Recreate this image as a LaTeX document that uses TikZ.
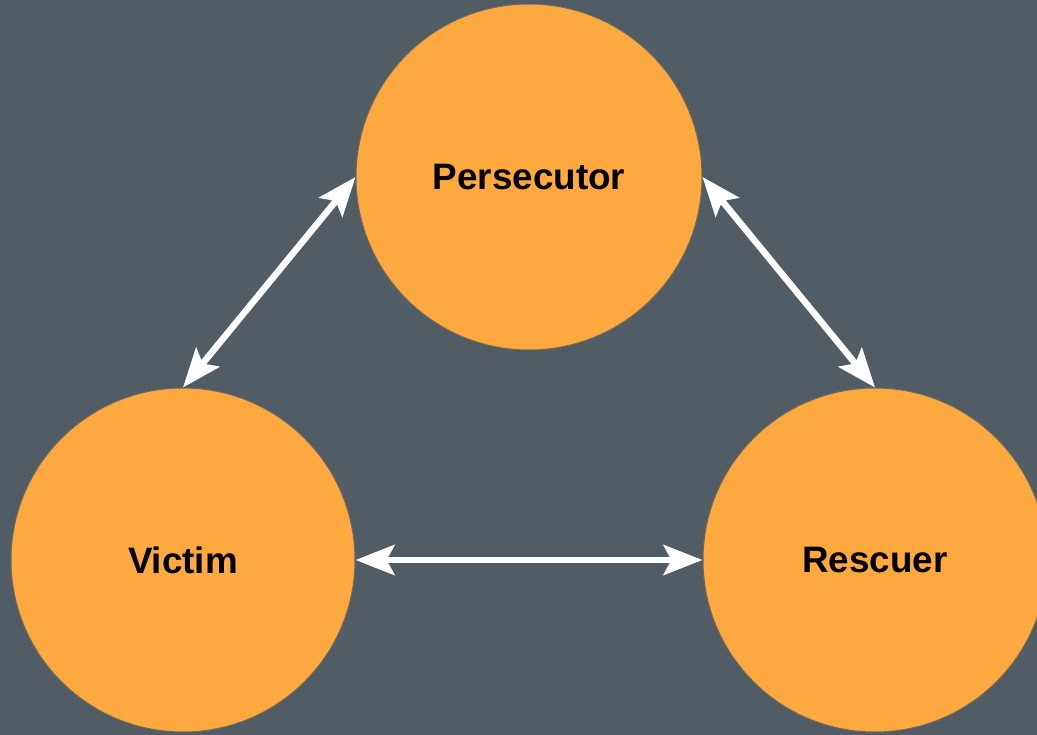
\documentclass[tikz,border=0pt]{standalone}
\usepackage{fontspec}
\setmainfont{Liberation Sans}
\usetikzlibrary{arrows.meta}
\definecolor{bg}{HTML}{525C65}
\definecolor{orng}{HTML}{FDA940}
\definecolor{rim}{HTML}{6E6A5E}
\tikzset{
  role/.style={circle, fill=orng, draw=rim, line width=1pt, inner sep=0pt,
    font=\fontsize{36.8}{40}\selectfont\bfseries, text=black},
  link/.style={white, line width=6.5pt,
    {Stealth[length=39pt,width=30pt,inset=8pt]}-{Stealth[length=39pt,width=30pt,inset=8pt]}}
}
\begin{document}
\begin{tikzpicture}[x=1pt,y=-1pt]
\fill[bg] (0,0) rectangle (1037,735);
\useasboundingbox (0,0) rectangle (1037,735);
\node[role, minimum size=346pt] (p) at (529,177) {Persecutor};
\node[role, minimum size=344pt] (v) at (183,560) {Victim};
\node[role, minimum size=344pt] (r) at (875,560) {Rescuer};
\draw[link] (v.north) -- (p.west);
\draw[link] (p.east) -- (r.north);
\draw[link] (v.east) -- (r.west);
\end{tikzpicture}
\end{document}
